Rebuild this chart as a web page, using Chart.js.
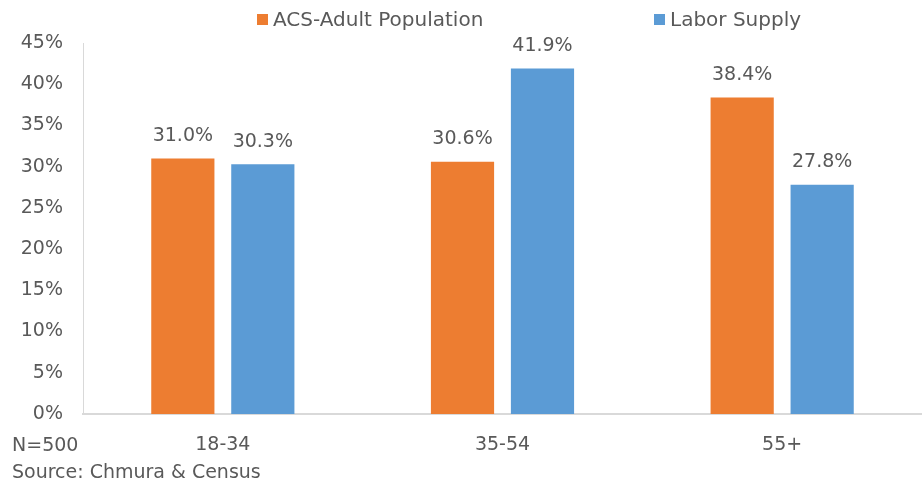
<!DOCTYPE html>
<html>
<head>
<meta charset="utf-8">
<script src="https://cdn.jsdelivr.net/npm/chart.js@4/dist/chart.umd.min.js"></script>
<style>
  html, body { margin: 0; padding: 0; background: #fff; }
  #wrap { position: relative; width: 922px; height: 487px; }
  #legend { position: absolute; top: 6px; left: 0; width: 922px; height: 28px; font-family: "DejaVu Sans", sans-serif; font-size: 20px; color: #595959; }
  .item { position: absolute; top: 0; white-space: nowrap; line-height: 26px; }
  .box { display: inline-block; width: 11px; height: 11px; margin-right: 5px; vertical-align: 1px; }
</style>
</head>
<body>
<div id="wrap">
  <canvas id="c" width="922" height="487"></canvas>
  <div id="legend"></div>
</div>
<script>
const categories = ["18-34", "35-54", "55+"];
const seriesNames = ["ACS-Adult Population", "Labor Supply"];
const acsAdult = [31.0, 30.6, 38.4];
const laborSupply = [30.3, 41.9, 27.8];
const yTicks = [0, 5, 10, 15, 20, 25, 30, 35, 40, 45];
const footnotes = ["N=500", "Source: Chmura & Census"];

const colors = ["#ED7D31", "#5B9BD5"];
const textColor = "#595959";
const fontFamily = "'DejaVu Sans', sans-serif";

// HTML legend
const legendPos = [257, 654];
const legend = document.getElementById('legend');
seriesNames.forEach((n, i) => {
  const d = document.createElement('div');
  d.className = 'item';
  d.style.left = legendPos[i] + 'px';
  d.innerHTML = '<span class="box" style="background:' + colors[i] + '"></span>' + n;
  legend.appendChild(d);
});

const valueLabels = {
  id: 'valueLabels',
  afterDatasetsDraw(chart) {
    const ctx = chart.ctx;
    ctx.save();
    ctx.font = '19px ' + fontFamily;
    ctx.fillStyle = textColor;
    ctx.textAlign = 'center';
    ctx.textBaseline = 'bottom';
    chart.data.datasets.forEach((ds, di) => {
      chart.getDatasetMeta(di).data.forEach((bar, i) => {
        ctx.fillText(ds.data[i].toFixed(1) + '%', bar.x, bar.y - 13);
      });
    });
    ctx.restore();
  }
};

const footnotePlugin = {
  id: 'footnotes',
  afterDraw(chart) {
    const ctx = chart.ctx;
    ctx.save();
    ctx.font = '19px ' + fontFamily;
    ctx.fillStyle = textColor;
    ctx.textAlign = 'left';
    ctx.textBaseline = 'middle';
    ctx.fillText(footnotes[0], 12, 446);
    ctx.fillText(footnotes[1], 12, 473);
    ctx.restore();
  }
};

new Chart(document.getElementById('c'), {
  type: 'bar',
  data: {
    labels: categories,
    datasets: [
      { label: seriesNames[0], data: acsAdult, backgroundColor: colors[0] },
      { label: seriesNames[1], data: laborSupply, backgroundColor: colors[1] }
    ]
  },
  options: {
    responsive: false,
    animation: false,
    devicePixelRatio: 1,
    layout: { padding: { top: 43, right: 0, bottom: 0, left: 0 } },
    categoryPercentage: 0.572,
    barPercentage: 0.79,
    plugins: { legend: { display: false }, tooltip: { enabled: false } },
    scales: {
      x: {
        grid: { display: false, drawTicks: false },
        border: { display: true, color: '#D9D9D9', width: 2 },
        ticks: { color: textColor, font: { family: fontFamily, size: 19 }, padding: 20 },
        afterFit(s) { s.height = 73; }
      },
      y: {
        min: 0, max: 45,
        grid: { display: false, drawTicks: false },
        border: { display: true, color: '#D9D9D9', width: 1 },
        afterBuildTicks(s) { s.ticks = yTicks.map(v => ({ value: v })); },
        ticks: { color: textColor, font: { family: fontFamily, size: 19 }, padding: 20, callback: v => v + '%' },
        afterFit(s) { s.width = 83; }
      }
    }
  },
  plugins: [valueLabels, footnotePlugin]
});
</script>
</body>
</html>
